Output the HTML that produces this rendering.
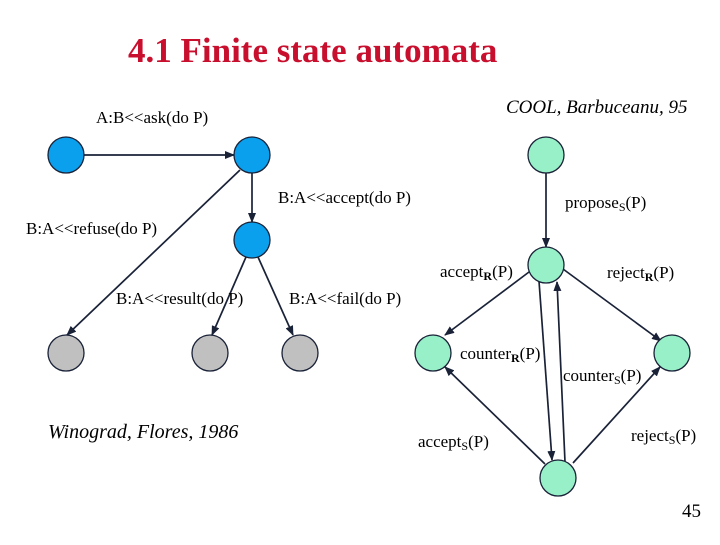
<!DOCTYPE html>
<html><head><style>
body{margin:0;width:720px;height:540px;background:#fff;overflow:hidden}
svg{font-family:"Liberation Serif",serif}
</style></head><body>
<svg width="720" height="540" viewBox="0 0 720 540">
<defs><marker id="a" markerWidth="10" markerHeight="8" refX="9" refY="4" orient="auto" markerUnits="userSpaceOnUse"><path d="M0,0 L10,4 L0,8 z" fill="#1a2238"/></marker></defs>
<text x="128" y="62" font-size="35" font-weight="bold" fill="#c8102e">4.1 Finite state automata</text>
<text x="96" y="123" font-size="17">A:B&lt;&lt;ask(do P)</text>
<text x="506" y="113" font-size="19" font-style="italic">COOL, Barbuceanu, 95</text>
<g stroke="#1a2238" stroke-width="1.7" fill="none" marker-end="url(#a)">
<line x1="84" y1="155" x2="234" y2="155"/>
<line x1="252" y1="173" x2="252" y2="222"/>
<line x1="240" y1="170" x2="67" y2="335"/>
<line x1="246" y1="257" x2="212" y2="335"/>
<line x1="258" y1="257" x2="293" y2="335"/>
<line x1="546" y1="173" x2="546" y2="247"/>
<line x1="529" y1="272" x2="445" y2="335"/>
<line x1="563" y1="269" x2="661" y2="341"/>
<line x1="539" y1="281" x2="552" y2="460"/>
<line x1="565" y1="462" x2="557" y2="282"/>
<line x1="545" y1="464" x2="445" y2="367"/>
<line x1="573" y1="463" x2="660" y2="367"/>
</g>
<g stroke="#1a2238" stroke-width="1.3">
<circle cx="66" cy="155" r="18" fill="#0aa0ee"/>
<circle cx="252" cy="155" r="18" fill="#0aa0ee"/>
<circle cx="252" cy="240" r="18" fill="#0aa0ee"/>
<circle cx="66" cy="353" r="18" fill="#c0c0c0"/>
<circle cx="210" cy="353" r="18" fill="#c0c0c0"/>
<circle cx="300" cy="353" r="18" fill="#c0c0c0"/>
<circle cx="546" cy="155" r="18" fill="#98f0c8"/>
<circle cx="546" cy="265" r="18" fill="#98f0c8"/>
<circle cx="433" cy="353" r="18" fill="#98f0c8"/>
<circle cx="672" cy="353" r="18" fill="#98f0c8"/>
<circle cx="558" cy="478" r="18" fill="#98f0c8"/>
</g>
<g font-size="17">
<text x="278" y="203">B:A&lt;&lt;accept(do P)</text>
<text x="26" y="234">B:A&lt;&lt;refuse(do P)</text>
<text x="116" y="304">B:A&lt;&lt;result(do P)</text>
<text x="289" y="304">B:A&lt;&lt;fail(do P)</text>
<text x="565" y="208">propose<tspan font-size="12" dy="3">S</tspan><tspan dy="-3">(P)</tspan></text>
<text x="440" y="277">accept<tspan font-size="12" dy="3" font-weight="bold">R</tspan><tspan dy="-3">(P)</tspan></text>
<text x="607" y="278">reject<tspan font-size="12" dy="3" font-weight="bold">R</tspan><tspan dy="-3">(P)</tspan></text>
<text x="460" y="359">counter<tspan font-size="12" dy="3" font-weight="bold">R</tspan><tspan dy="-3">(P)</tspan></text>
<text x="563" y="381">counter<tspan font-size="12" dy="3">S</tspan><tspan dy="-3">(P)</tspan></text>
<text x="418" y="447">accept<tspan font-size="12" dy="3">S</tspan><tspan dy="-3">(P)</tspan></text>
<text x="631" y="441">reject<tspan font-size="12" dy="3">S</tspan><tspan dy="-3">(P)</tspan></text>
</g>
<text x="48" y="438" font-size="20" font-style="italic">Winograd, Flores, 1986</text>
<text x="682" y="517" font-size="19">45</text>
</svg>
</body></html>
